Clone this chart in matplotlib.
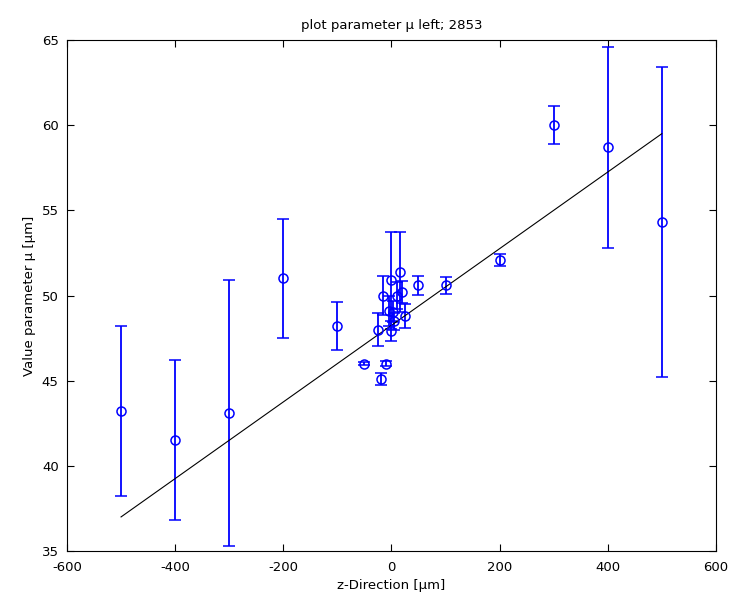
import numpy as np
import matplotlib
matplotlib.use('Agg')
import matplotlib.pyplot as plt

z = np.array([-500, -400, -300, -200, -100, -50, -25, -20, -15, -10,
              -5, 0, 0, 3, 5, 10, 15, 20, 25, 50, 100, 200, 300, 400, 500])
mu = np.array([43.2, 41.5, 43.1, 51.0, 48.2, 46.0, 48.0, 45.1, 50.0, 46.0,
               49.1, 47.9, 50.9, 49.05, 48.5, 50.0, 51.4, 50.2, 48.8, 50.6,
               50.6, 52.1, 60.0, 58.7, 54.3])
err = np.array([5.0, 4.7, 7.8, 3.5, 1.4, 0.1, 0.95, 0.35, 1.15, 0.15,
                0.9, 0.6, 2.85, 0.6, 0.5, 0.8, 2.35, 0.65, 0.7, 0.55,
                0.5, 0.35, 1.1, 5.9, 9.1])

fit_x = np.array([-500, 500])
fit_y = np.array([37.0, 59.5])

plt.rcParams['font.family'] = 'DejaVu Sans'
plt.rcParams['font.size'] = 9
plt.rcParams['axes.unicode_minus'] = False

fig = plt.figure(figsize=(7.32, 6.12), dpi=100)
ax = fig.add_axes([0.0915, 0.0997, 0.8865, 0.8349])

ax.errorbar(z, mu, yerr=err, fmt='o', color='#0000ff', mfc='none', mec='#0000ff',
            markersize=6.5, capsize=4.5, elinewidth=1.3, capthick=1.3, mew=1.1)
ax.plot(fit_x, fit_y, color='black', linewidth=0.8)

ax.set_xlim(-600, 600)
ax.set_ylim(35, 65)
ax.set_xticks(np.arange(-600, 601, 200))
ax.set_yticks(np.arange(35, 66, 5))
ax.tick_params(direction='in', top=True, right=True, length=5, labelsize=9.5)
ax.tick_params(axis='x', pad=7)
ax.tick_params(axis='y', pad=6)
for s in ax.spines.values():
    s.set_linewidth(0.8)

ax.set_title('plot parameter \u03bc left; 2853', fontsize=9.5, pad=8)
ax.set_xlabel('z-Direction [\u03bcm]', fontsize=9.5)
ax.set_ylabel('Value parameter \u03bc [\u03bcm]', fontsize=9.5)

fig.savefig('out.png', dpi=100)
